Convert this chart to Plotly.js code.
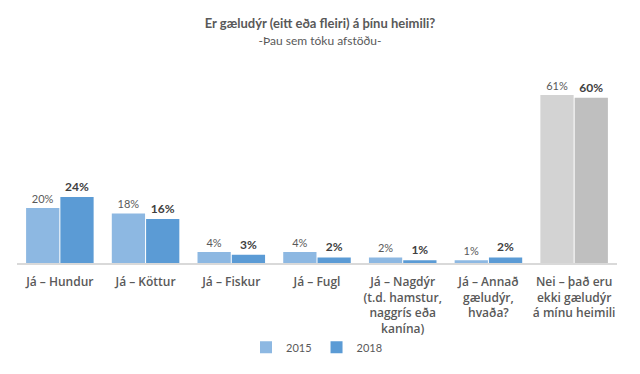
<!DOCTYPE html>
<html>
<head>
<meta charset="utf-8">
<script src="https://cdn.plot.ly/plotly-3.0.1.min.js"></script>
<style>html,body{margin:0;padding:0;background:#fff}#chart{width:640px;height:374px}</style>
</head>
<body>
<div id="chart"></div>
<script>
var categories = [
  "Já – Hundur",
  "Já – Köttur",
  "Já – Fiskur",
  "Já – Fugl",
  "Já – Nagdýr<br>(t.d. hamstur,<br>naggrís eða<br>kanína)",
  "Já – Annað<br>gæludýr,<br>hvaða?",
  "Nei – það eru<br>ekki gæludýr<br>á mínu heimili"
];
var values2015 = [20, 18, 4, 4, 2, 1, 61];
var values2018 = [24, 16, 3, 2, 1, 2, 60];
var colors2015 = ["#8DB8E2","#8DB8E2","#8DB8E2","#8DB8E2","#8DB8E2","#8DB8E2","#D3D3D3"];
var colors2018 = ["#5B9BD5","#5B9BD5","#5B9BD5","#5B9BD5","#5B9BD5","#5B9BD5","#BFBFBF"];

var font = "Lato, 'Open Sans', sans-serif";
var data = [
  {
    type: "bar", name: "2015", x: categories, y: values2015,
    marker: {color: colors2015},
    text: values2015.map(function(v){return v + "%";}),
    textposition: "outside", cliponaxis: false,
    textfont: {family: font, size: 11, color: "#595959"},
    hoverinfo: "none"
  },
  {
    type: "bar", name: "2018", x: categories, y: values2018,
    marker: {color: colors2018},
    text: values2018.map(function(v){return "<b>" + v + "%</b>";}),
    textposition: "outside", cliponaxis: false,
    textfont: {family: font, size: 12, color: "#404040"},
    hoverinfo: "none"
  }
];
var layout = {
  width: 640, height: 374,
  paper_bgcolor: "#fff", plot_bgcolor: "#fff",
  margin: {l: 17, r: 23, t: 84, b: 109},
  barmode: "group", bargap: 0.2, bargroupgap: 0.03,
  showlegend: true,
  title: {
    text: "<b>Er gæludýr (eitt eða fleiri) á þínu heimili?</b><br><span style='font-size:12px'>-Þau sem tóku afstöðu-</span>",
    font: {family: font, size: 13, color: "#595959"},
    x: 0.5, xanchor: "center", y: 0.925, yanchor: "top"
  },
  xaxis: {
    automargin: false,
    showline: true, linecolor: "#D9D9D9", linewidth: 1.5,
    ticks: "", showgrid: false, zeroline: false,
    ticklabelstandoff: 7,
    tickfont: {family: "'Open Sans', sans-serif", size: 12, color: "#595959", weight: 600},
    tickangle: 0, fixedrange: true
  },
  yaxis: {
    automargin: false,
    range: [0, 65], visible: false, showgrid: false, zeroline: false, fixedrange: true
  },
  legend: {
    orientation: "h", x: 0.5, xanchor: "center", y: -0.39, yanchor: "top",
    font: {family: font, size: 11, color: "#595959"},
    itemwidth: 30, itemsizing: "constant"
  }
};
Plotly.newPlot("chart", data, layout, {displayModeBar: false, staticPlot: true});
</script>
</body>
</html>
